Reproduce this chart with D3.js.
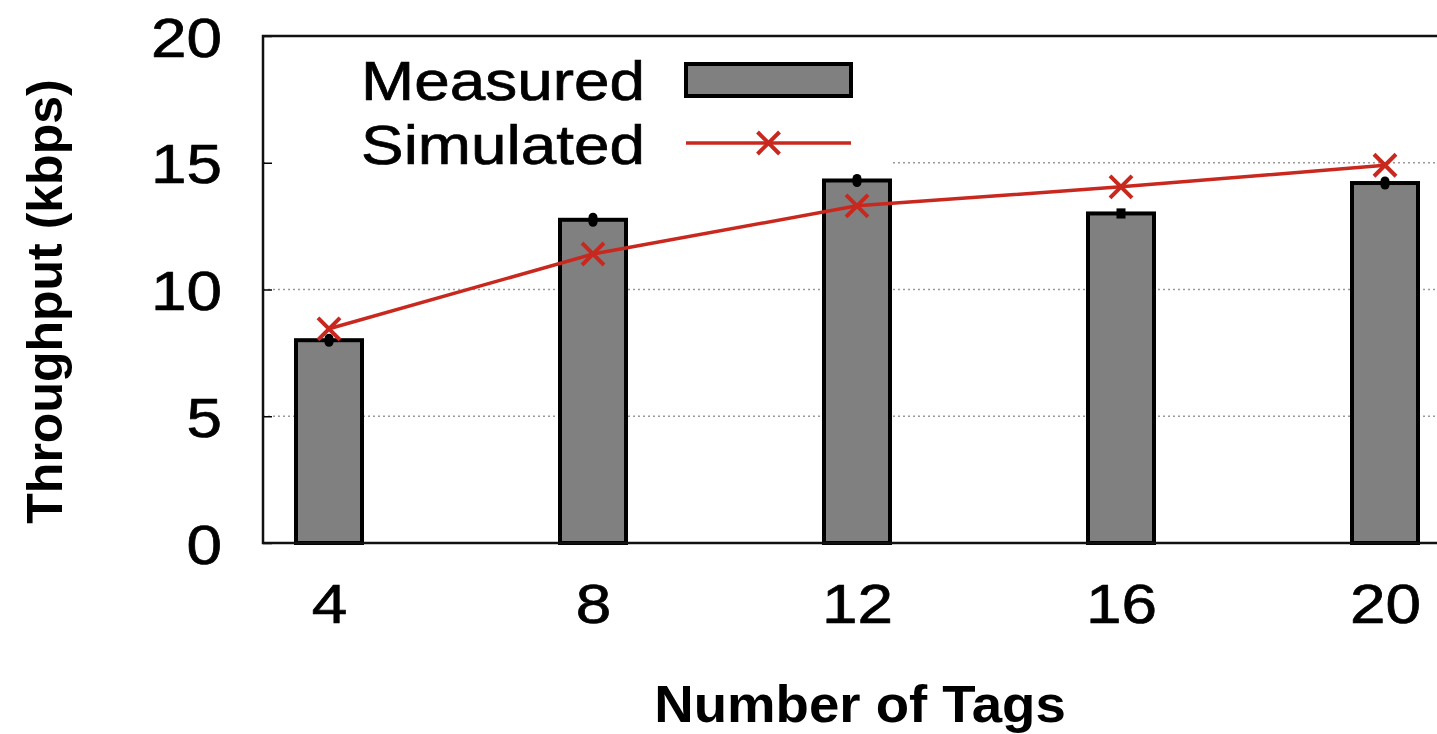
<!DOCTYPE html>
<html>
<head>
<meta charset="utf-8">
<script src="https://cdn.jsdelivr.net/npm/d3@7/dist/d3.min.js"></script>
<style>
  html, body { margin: 0; padding: 0; background: #fff; }
  svg { display: block; }
  text { font-family: "Liberation Sans", Arial, Helvetica, sans-serif; fill: #000; }
  text.reg { stroke: #000; stroke-width: 0.7px; }
</style>
</head>
<body>
<svg id="chart" width="1437" height="734"></svg>
<script>
// Throughput vs. number of tags
const tags = [4, 8, 12, 16, 20];
const measured = [8.0, 12.75, 14.3, 13.0, 14.2];
const measuredErr = [0.08, 0.1, 0.08, 0.2, 0.08];
const simulated = [8.45, 11.4, 13.3, 14.05, 14.9];
const yTicks = [0, 5, 10, 15, 20];
const seriesNames = ["Measured", "Simulated"];

const svg = d3.select("#chart");
const plotLeft = 263, plotTop = 36, plotBottom = 543, plotRight = 1451;

const x = d3.scaleLinear().domain([3, 21]).range([plotLeft, plotRight]);
const y = d3.scaleLinear().domain([0, 20]).range([plotBottom, plotTop]);
const barW = x(4) - x(3);

const red = "#c8281e";

// widen glyphs horizontally by factor k while keeping the anchor
function widen(sel, k) {
  sel.each(function () {
    const len = this.getComputedTextLength();
    d3.select(this).attr("textLength", len * k).attr("lengthAdjust", "spacingAndGlyphs");
  });
}

// dotted grid lines
svg.append("g")
  .selectAll("line")
  .data(yTicks.filter(d => d > 0 && d < 20))
  .join("line")
  .attr("x1", plotLeft).attr("x2", plotRight)
  .attr("y1", d => y(d)).attr("y2", d => y(d))
  .attr("stroke", "#9a9a9a")
  .attr("stroke-width", 1.3)
  .attr("stroke-dasharray", "2,3");

// legend background hides the grid behind it
svg.append("rect")
  .attr("x", plotLeft + 2).attr("y", plotTop + 2)
  .attr("width", 888 - plotLeft).attr("height", 175 - plotTop)
  .attr("fill", "#fff");

// y axis
const yAxis = d3.axisLeft(y).tickValues(yTicks).tickSize(-9).tickPadding(41);
const gy = svg.append("g").attr("transform", `translate(${plotLeft},0)`).call(yAxis);
gy.select(".domain").remove();
gy.selectAll(".tick line").attr("stroke", "#000").attr("stroke-width", 1.5);
gy.selectAll(".tick text")
  .attr("class", "reg")
  .attr("font-size", 56)
  .attr("dy", "0.36em")
  .attr("fill", "#000")
  .call(widen, 1.14);

// x axis
const xAxis = d3.axisBottom(x).tickValues(tags).tickSize(0).tickPadding(40);
const gx = svg.append("g").attr("transform", `translate(0,${plotBottom})`).call(xAxis);
gx.select(".domain").remove();
gx.selectAll(".tick text")
  .attr("class", "reg")
  .attr("font-size", 56)
  .attr("dy", "0.72em")
  .attr("fill", "#000")
  .call(widen, 1.14);

// bars
svg.append("g")
  .selectAll("rect")
  .data(tags.map((t, i) => ({ t, v: measured[i] })))
  .join("rect")
  .attr("x", d => x(d.t) - barW / 2)
  .attr("y", d => y(d.v))
  .attr("width", barW)
  .attr("height", d => y(0) - y(d.v))
  .attr("fill", "#808080")
  .attr("stroke", "#000")
  .attr("stroke-width", 4);

// error bars on measured values
svg.append("g")
  .selectAll("line")
  .data(tags.map((t, i) => ({ t, v: measured[i], e: measuredErr[i] })))
  .join("line")
  .attr("x1", d => x(d.t)).attr("x2", d => x(d.t))
  .attr("y1", d => y(d.v + d.e)).attr("y2", d => y(d.v - d.e))
  .attr("stroke", "#000")
  .attr("stroke-width", 9)
  .attr("stroke-linecap", (d, i) => i === 3 ? "butt" : "round");

// simulated line
const line = d3.line().x(d => x(d.t)).y(d => y(d.v));
const simData = tags.map((t, i) => ({ t, v: simulated[i] }));
svg.append("path")
  .datum(simData)
  .attr("d", line)
  .attr("fill", "none")
  .attr("stroke", red)
  .attr("stroke-width", 3.5);

function drawX(g, cx, cy) {
  const s = 11;
  g.append("path")
    .attr("d", `M${cx - s},${cy - s}L${cx + s},${cy + s}M${cx - s},${cy + s}L${cx + s},${cy - s}`)
    .attr("stroke", red)
    .attr("stroke-width", 4)
    .attr("fill", "none");
}
const marks = svg.append("g");
simData.forEach(d => drawX(marks, x(d.t), y(d.v)));

// frame
svg.append("rect")
  .attr("x", plotLeft).attr("y", plotTop)
  .attr("width", plotRight - plotLeft).attr("height", plotBottom - plotTop)
  .attr("fill", "none")
  .attr("stroke", "#111")
  .attr("stroke-width", 2.5);

// legend
const lg = svg.append("g");
const textX = 645, swX1 = 686, swX2 = 851;
lg.append("text").attr("class", "reg").attr("x", textX).attr("y", 100).attr("text-anchor", "end")
  .attr("font-size", 56).text(seriesNames[0]).call(widen, 1.14);
lg.append("rect").attr("x", swX1).attr("y", 64).attr("width", swX2 - swX1).attr("height", 32)
  .attr("fill", "#808080").attr("stroke", "#000").attr("stroke-width", 4);
lg.append("text").attr("class", "reg").attr("x", textX).attr("y", 164).attr("text-anchor", "end")
  .attr("font-size", 56).text(seriesNames[1]).call(widen, 1.14);
lg.append("line").attr("x1", swX1).attr("x2", swX2).attr("y1", 143).attr("y2", 143)
  .attr("stroke", red).attr("stroke-width", 3.5);
drawX(lg, (swX1 + swX2) / 2, 143);

// axis titles
svg.append("text")
  .attr("transform", `translate(62,${(plotTop + plotBottom) / 2 + 12}) rotate(-90)`)
  .attr("text-anchor", "middle")
  .attr("font-size", 50).attr("font-weight", "bold")
  .text("Throughput (kbps)");
svg.append("text")
  .attr("x", 860).attr("y", 722)
  .attr("text-anchor", "middle")
  .attr("font-size", 52).attr("font-weight", "bold")
  .text("Number of Tags")
  .call(widen, 1.05);
</script>
</body>
</html>
